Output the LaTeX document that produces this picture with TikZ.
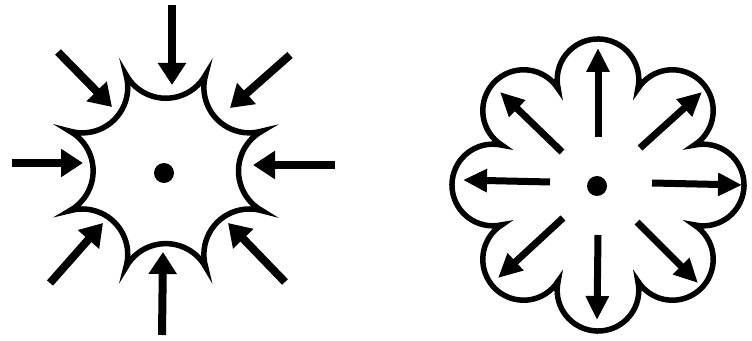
\documentclass[tikz,border=0pt]{standalone}
\usetikzlibrary{arrows.meta,calc}
\begin{document}
\begin{tikzpicture}[x=1pt,y=1pt,
  outline/.style={line width=5.5pt,line join=miter},
  inarrow/.style={line width=8pt,-{Triangle[length=22pt,width=27pt]}},
  outarrow/.style={line width=7pt,-{Triangle[length=24pt,width=22pt]}}]
\useasboundingbox (0,0) rectangle (752,340);
% ---------- left: shrinking cell ----------
\coordinate (S) at (166,169);
\draw[outline] ($(S)+(-22.5:104)$)
  \foreach \k in {0,...,7} { arc[start angle=45*\k+241.2, end angle=45*\k+118.8, radius=45.5] } -- cycle;
\fill (164,167) circle[radius=10];
\draw[inarrow] (172,335) -- (172,255);
\draw[inarrow] (12,177) -- (83,177);
\draw[inarrow] (335,175) -- (253,175);
\draw[inarrow] (162,5) -- (163,88);
\draw[inarrow] (58,288) -- (112,233);
\draw[inarrow] (290,285) -- (230,232);
\draw[inarrow] (50,57) -- (103,117);
\draw[inarrow] (285,58) -- (228,117);
% ---------- right: swelling cell ----------
\coordinate (F) at (598,155);
\draw[outline] ($(F)+(-22.5:104)$)
  \foreach \k in {0,...,7} { arc[start angle=45*\k-102.9, end angle=45*\k+102.9, radius=40.83] } -- cycle;
\fill (597,154) circle[radius=10];
\draw[outarrow] (598,203) -- (598,292);
\draw[outarrow] (640,192) -- (702,248);
\draw[outarrow] (652,157) -- (742,155);
\draw[outarrow] (637,118) -- (698,57);
\draw[outarrow] (598,105) -- (597,20);
\draw[outarrow] (563,122) -- (498,62);
\draw[outarrow] (550,158) -- (463,160);
\draw[outarrow] (562,188) -- (500,248);
\end{tikzpicture}
\end{document}
